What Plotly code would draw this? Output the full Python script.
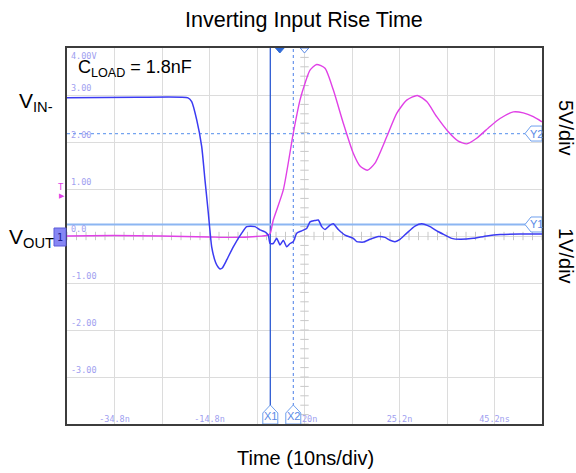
import plotly.graph_objects as go

# ---------------- data (time in ns, amplitude in screen divisions) ----------------
VIN_T = [-44.8, -30.0, -19.33, -18.55, -17.49, -16.44, -15.75, -15.05, -14.34, -13.49, -13.0,
         -12.59, -12.1, -11.18, -9.79, -8.02, -6.97, -5.22, -4.17, -3.12, -2.42, -2.06, -1.37,
         -0.65, 0.04, 0.74, 1.45, 2.15, 2.84, 3.56, 4.61, 5.66, 6.36, 7.41, 8.11, 8.82, 9.52,
         10.57, 11.26, 12.32, 13.73, 15.47, 16.19, 17.58, 18.99, 20.74, 22.15, 23.2, 24.25,
         25.31, 26.72, 28.46, 29.87, 31.62, 33.37, 34.78, 36.19, 37.94, 40.74, 43.56, 46.36,
         50.57, 55.2]
VIN_V = [2.94, 2.95, 2.94, 2.86, 2.47, 1.90, 1.19, 0.49, -0.23, -0.57, -0.66,
         -0.70, -0.68, -0.51, -0.23, 0.06, 0.20, 0.20, 0.13, 0.09, 0.02, -0.16, -0.16,
         -0.05, -0.19, -0.09, -0.23, -0.16, -0.12, 0.06, 0.11, 0.16, 0.30, 0.33, 0.34, 0.20, 0.14,
         0.23, 0.26, 0.14, 0.02, -0.05, -0.12, -0.13, -0.07, -0.01, -0.03, -0.09, -0.12,
         -0.07, 0.06, 0.21, 0.26, 0.20, 0.09, 0.02, -0.05, -0.07, -0.05, 0.00, 0.03,
         0.04, 0.04]

VOUT_T = [-44.8, -35.0, -25.0, -15.0, -10.0, -5.0, -2.42, -2.0, -1.37, 0.74, 2.84, 4.25, 5.31,
          6.36, 7.77, 9.52, 11.26, 13.37, 15.47, 16.88, 18.42, 20.04, 22.51, 24.61, 26.72,
          28.95, 30.93, 33.03, 35.47, 37.58, 39.35, 41.45, 44.25, 46.36, 49.16, 51.26, 53.37, 55.2]
VOUT_V = [0.0, 0.01, 0.0, -0.02, -0.03, -0.01, 0.02, 0.06, 0.34, 0.98, 2.19, 2.89, 3.25,
          3.53, 3.65, 3.57, 3.11, 2.40, 1.76, 1.49, 1.40, 1.55, 2.11, 2.61, 2.89,
          2.99, 2.86, 2.54, 2.22, 2.02, 1.96, 2.08, 2.33, 2.50, 2.64, 2.62, 2.54, 2.43]

X_TICK_VALS = [-34.8, -14.8, 5.2, 25.2, 45.2]
X_TICK_TEXT = ["-34.8n", "-14.8n", "5.20n", "25.2n", "45.2ns"]
Y_TICK_VALS = [4, 3, 2, 1, 0, -1, -2, -3]
Y_TICK_TEXT = ["4.00V", "3.00", "2.00", "1.00", "0.0", "-1.00", "-2.00", "-3.00"]

X1_NS, X2_NS = -2.0, 2.84       # time cursors
Y1_DIV, Y2_DIV = 0.245, 2.18    # amplitude cursors
TRIG_NS, CENTER_NS = 0.0, 5.2   # trigger position / screen centre

X_MIN, X_MAX = -44.8, 55.2
Y_MIN, Y_MAX = -4.0, 4.0

# ---------------- geometry helpers ----------------
W, H = 576, 473
L, R, T, B = 67, 34, 48, 49
PW, PH = W - L - R, H - T - B
NS_PER_PX = (X_MAX - X_MIN) / PW
DIV_PER_PX = (Y_MAX - Y_MIN) / PH


def px_x(px):
    return (px - L) / PW


def px_y(py):
    return (H - B - py) / PH


BLUE = "#3b3bf2"
MAGENTA = "#e040e6"
LABEL_C = "#a0a0f0"
TAG_C = "#6fa0ee"
FONT = "Liberation Sans"
MONO = "DejaVu Sans Mono"

fig = go.Figure()

# minor ticks on centre graticule lines
minor_y = [Y_MIN + 0.2 * i for i in range(41)]
minor_x = [X_MIN + 2.0 * i for i in range(51)]
fig.add_trace(go.Scatter(x=[CENTER_NS] * len(minor_y), y=minor_y, mode="markers",
                         marker=dict(symbol="line-ew", size=6, line=dict(color="#c8c8c8", width=1)),
                         hoverinfo="skip", showlegend=False))
fig.add_trace(go.Scatter(x=minor_x, y=[0] * len(minor_x), mode="markers",
                         marker=dict(symbol="line-ns", size=6, line=dict(color="#c8c8c8", width=1)),
                         hoverinfo="skip", showlegend=False))

# time graticule labels (inside the screen, under the cursor tags)
fig.add_trace(go.Scatter(x=X_TICK_VALS, y=[Y_MIN] * len(X_TICK_VALS), mode="text",
                         text=X_TICK_TEXT, textposition="top center",
                         textfont=dict(family=MONO, size=8.5, color=LABEL_C),
                         cliponaxis=False, hoverinfo="skip", showlegend=False))

# waveforms
fig.add_trace(go.Scatter(x=VOUT_T, y=VOUT_V, mode="lines",
                         line=dict(color=MAGENTA, width=1.4, shape="spline", smoothing=0.6),
                         hoverinfo="skip", showlegend=False))
fig.add_trace(go.Scatter(x=VIN_T, y=VIN_V, mode="lines",
                         line=dict(color=BLUE, width=1.5, shape="spline", smoothing=0.5),
                         hoverinfo="skip", showlegend=False))

shapes = []
# cursors
shapes.append(dict(type="line", xref="x", yref="y", x0=X1_NS, x1=X1_NS, y0=Y_MIN, y1=Y_MAX,
                   line=dict(color="#2c5ad2", width=1.3), layer="between"))
shapes.append(dict(type="line", xref="x", yref="y", x0=X2_NS, x1=X2_NS, y0=Y_MIN, y1=Y_MAX,
                   line=dict(color="#4a7fe8", width=1, dash="dot"), layer="between"))
shapes.append(dict(type="line", xref="x", yref="y", x0=X_MIN, x1=X_MAX, y0=Y1_DIV, y1=Y1_DIV,
                   line=dict(color="#8cb6f2", width=2), layer="between"))
shapes.append(dict(type="line", xref="x", yref="y", x0=X_MIN, x1=X_MAX, y0=Y2_DIV, y1=Y2_DIV,
                   line=dict(color="#74a4f0", width=1.3, dash="dot"), layer="between"))


def x_tag(c):
    hw = 7.5 * NS_PER_PX
    y0 = Y_MIN
    y1 = Y_MIN + 11 * DIV_PER_PX
    y2 = Y_MIN + 19 * DIV_PER_PX
    return (f"M {c - hw} {y0} L {c - hw} {y1} L {c} {y2} L {c + hw} {y1} "
            f"L {c + hw} {y0} Z")


def y_tag(v):
    hh = 7.5 * DIV_PER_PX
    xb = X_MAX - 11 * NS_PER_PX
    xt = X_MAX - 17 * NS_PER_PX
    return (f"M {X_MAX} {v - hh} L {xb} {v - hh} L {xt} {v} L {xb} {v + hh} "
            f"L {X_MAX} {v + hh} Z")


for c in (X1_NS, X2_NS):
    shapes.append(dict(type="path", xref="x", yref="y", path=x_tag(c), fillcolor="white",
                       line=dict(color=TAG_C, width=1), layer="above"))
for v in (Y1_DIV, Y2_DIV):
    shapes.append(dict(type="path", xref="x", yref="y", path=y_tag(v), fillcolor="white",
                       line=dict(color=TAG_C, width=1), layer="above"))

# top markers (trigger position filled, centre outline)
thw = 4.3 * NS_PER_PX
tdh = 5 * DIV_PER_PX
shapes.append(dict(type="path", xref="x", yref="y",
                   path=f"M {TRIG_NS - thw} {Y_MAX} L {TRIG_NS + thw} {Y_MAX} L {TRIG_NS} {Y_MAX - tdh} Z",
                   fillcolor="#2f6ad6", line=dict(color="#2f6ad6", width=1), layer="above"))
shapes.append(dict(type="path", xref="x", yref="y",
                   path=f"M {CENTER_NS - thw} {Y_MAX} L {CENTER_NS + thw} {Y_MAX} L {CENTER_NS} {Y_MAX - tdh} Z",
                   fillcolor="white", line=dict(color="#5a8ae6", width=1), layer="above"))

# channel ground marker at left
shapes.append(dict(type="rect", xref="paper", yref="paper",
                   x0=px_x(54), x1=px_x(66), y0=px_y(246), y1=px_y(228),
                   fillcolor="#8686f4", line=dict(color="#5a5ad8", width=1), layer="above"))

annotations = []


def ann(x, y, text, size, family=FONT, color="black", xanchor="center", yanchor="middle",
        xref="paper", yref="paper", **kw):
    annotations.append(dict(x=x, y=y, xref=xref, yref=yref, text=text, showarrow=False,
                            xanchor=xanchor, yanchor=yanchor,
                            font=dict(family=family, size=size, color=color), **kw))


# amplitude graticule labels
for v, txt in zip(Y_TICK_VALS, Y_TICK_TEXT):
    if v == Y_MAX:
        ann(X_MIN, v, txt, 8.5, MONO, LABEL_C, "left", "top", "x", "y", xshift=2, yshift=-1)
    else:
        ann(X_MIN, v, txt, 8.5, MONO, LABEL_C, "left", "bottom", "x", "y", xshift=2, yshift=0)

for c, name in ((X1_NS, "X1"), (X2_NS, "X2")):
    ann(c, Y_MIN + 8 * DIV_PER_PX, name, 11, FONT, "#5a8ae6", xref="x", yref="y")
for v, name in ((Y1_DIV, "Y1"), (Y2_DIV, "Y2")):
    ann(X_MAX - 6 * NS_PER_PX, v, name, 11, FONT, "#5a8ae6", xref="x", yref="y")

ann(px_x(304), px_y(20), "Inverting Input Rise Time", 21.5)
ann(px_x(305), px_y(458), "Time (10ns/div)", 20)
ann(px_x(76), px_y(68), "C<sub>LOAD</sub> = 1.8nF", 18, xanchor="left")
ann(px_x(17), px_y(102), "V<sub>IN-</sub>", 21, xanchor="left")
ann(px_x(7), px_y(238), "V<sub>OUT</sub>", 21, xanchor="left")
ann(px_x(566), px_y(128), "5V/div", 20, textangle=90)
ann(px_x(566), px_y(256), "1V/div", 20, textangle=90)
ann(px_x(61), px_y(187), "T", 9, MONO, MAGENTA)
ann(px_x(62), px_y(196), "▶", 7, "DejaVu Sans", MAGENTA)
ann(px_x(60), px_y(237), "1", 10, MONO, "#1e1e90")

axis_common = dict(showgrid=True, gridcolor="#dcdcdc", gridwidth=1, zeroline=False,
                   showticklabels=False, ticks="", showline=True, mirror=True,
                   linecolor="#3c3c3c", linewidth=1.5, fixedrange=True)

fig.update_layout(
    width=W, height=H,
    margin=dict(l=L, r=R, t=T, b=B, pad=0),
    paper_bgcolor="white", plot_bgcolor="white",
    xaxis=dict(range=[X_MIN, X_MAX], tick0=X_MIN, dtick=10, **axis_common),
    yaxis=dict(range=[Y_MIN, Y_MAX], tick0=Y_MIN, dtick=1, **axis_common),
    shapes=shapes, annotations=annotations, showlegend=False,
)

fig.write_html("out.html")
